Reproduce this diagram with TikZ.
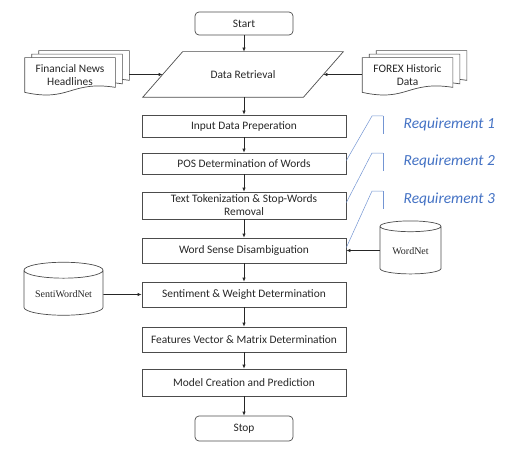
\documentclass[tikz,border=0pt]{standalone}
\usepackage{fontspec}
\setmainfont{Carlito}
\newfontfamily\dbfont{Liberation Serif}
\usetikzlibrary{shapes.geometric,arrows.meta,calc}
\definecolor{reqblue}{RGB}{68,114,196}
\tikzset{
  box/.style={draw=black!70,minimum width=204pt,align=center,inner sep=1pt,
    font=\fontsize{11.4}{13}\selectfont,text=black!85},
  term/.style={box,rounded corners=4pt,minimum width=98pt},
  io/.style={box,draw=none,minimum width=160pt,minimum height=45pt},
  db/.style={draw=black!70,cylinder,shape border rotate=90,aspect=0.25,
    font=\dbfont\fontsize{10}{12}\selectfont,text=black!85},
  page/.style={minimum width=90pt,minimum height=35pt,inner sep=0pt},
  pagetext/.style={align=center,font=\fontsize{11.4}{13}\selectfont,text=black!85},
  arr/.style={-{Latex[length=4pt,width=3.5pt]},black!85},
  req/.style={anchor=west,font=\itshape\fontsize{15.4}{18}\selectfont,text=reqblue},
  callout/.style={reqblue!75,line width=0.5pt}
}
\newcommand{\pagepath}[1]{%
  \filldraw[draw=black!70,fill=white] (#1.north west) -- (#1.north east)
    -- ($(#1.south east)+(0,-6)$) .. controls ($(#1.south)+(0,-13)$) and ($(#1.south)+(0,9)$)
    .. ($(#1.south west)+(0,-1)$) -- cycle;}
\newcommand{\iopath}[1]{%
  \draw[black!70] ($(#1.north west)+(20,0)$) -- ($(#1.north east)+(20,0)$)
    -- ($(#1.south east)+(-20,0)$) -- ($(#1.south west)+(-20,0)$) -- cycle;}
\begin{document}
\begin{tikzpicture}[x=1pt,y=-1pt,line width=0.7pt]
\useasboundingbox (0,0) rectangle (526,457);
% flow
\node[term,minimum height=23pt] (start) at (244,23.5) {Start};
\node[io] (dr) at (243,74.5) {Data Retrieval}; \iopath{dr}
\node[box,minimum height=22pt] (in) at (244,126) {Input Data Preperation};
\node[box,minimum height=21pt] (pos) at (244,163.5) {POS Determination of Words};
\node[box,minimum height=27pt] (tok) at (244,205.5) {Text Tokenization \& Stop-Words\\Removal};
\node[box,minimum height=25pt] (wsd) at (244,250.5) {Word Sense Disambiguation};
\node[box,minimum height=25pt] (sen) at (244,294.5) {Sentiment \& Weight Determination};
\node[box,minimum height=25pt] (feat) at (244,339.5) {Features Vector \& Matrix Determination};
\node[box,minimum height=27pt] (mod) at (244,382.5) {Model Creation and Prediction};
\node[term,minimum height=25pt] (stop) at (244,428.5) {Stop};
\draw[arr] (start) -- (start |- dr.north);
\draw[arr] (dr.south -| in) -- (in);
\foreach \a/\b in {in/pos,pos/tok,tok/wsd,wsd/sen,sen/feat,feat/mod,mod/stop}
  \draw[arr] (\a) -- (\b);
% inputs
\node[page] (fin1) at (84,68.5) {}; \pagepath{fin1}
\node[page] (fin2) at (77,72) {}; \pagepath{fin2}
\node[page] (fin3) at (70,75.5) {}; \pagepath{fin3}
\node[pagetext] (fin) at (fin3) {Financial News\\Headlines};
\node[page] (fx1) at (421.5,68.5) {}; \pagepath{fx1}
\node[page] (fx2) at (414.5,72) {}; \pagepath{fx2}
\node[page] (fx3) at (407.5,75.5) {}; \pagepath{fx3}
\node[pagetext] (fx) at (fx3) {FOREX Historic\\Data};
\draw[arr] (fin1.east |- dr.west) -- (dr.west);
\draw[arr] (fx3.west |- dr.east) -- (dr.east);
% databases
\node[db,minimum width=61pt,minimum height=53pt] (wn) at (410.5,251.5) {WordNet};
\node[db,minimum width=79pt,minimum height=53pt] (swn) at (63.5,294.5) {SentiWordNet};
\draw[arr] (wn.west |- wsd) -- (wsd);
\draw[arr] (swn) -- (sen);
% requirements
\foreach \n/\b/\y in {1/pos/116,2/tok/153,3/wsd/191}{
  \coordinate (top\n) at (383,\y);
  \coordinate (elb\n) at (372,\y);
  \draw[callout] (top\n) -- ++(0,18);
  \draw[callout] ($(\b.east)+(0,-3)$) -- (elb\n) -- (top\n);
  \node[req] (req\n) at (400,\y+8) {Requirement \n};
}
\end{tikzpicture}
\end{document}
